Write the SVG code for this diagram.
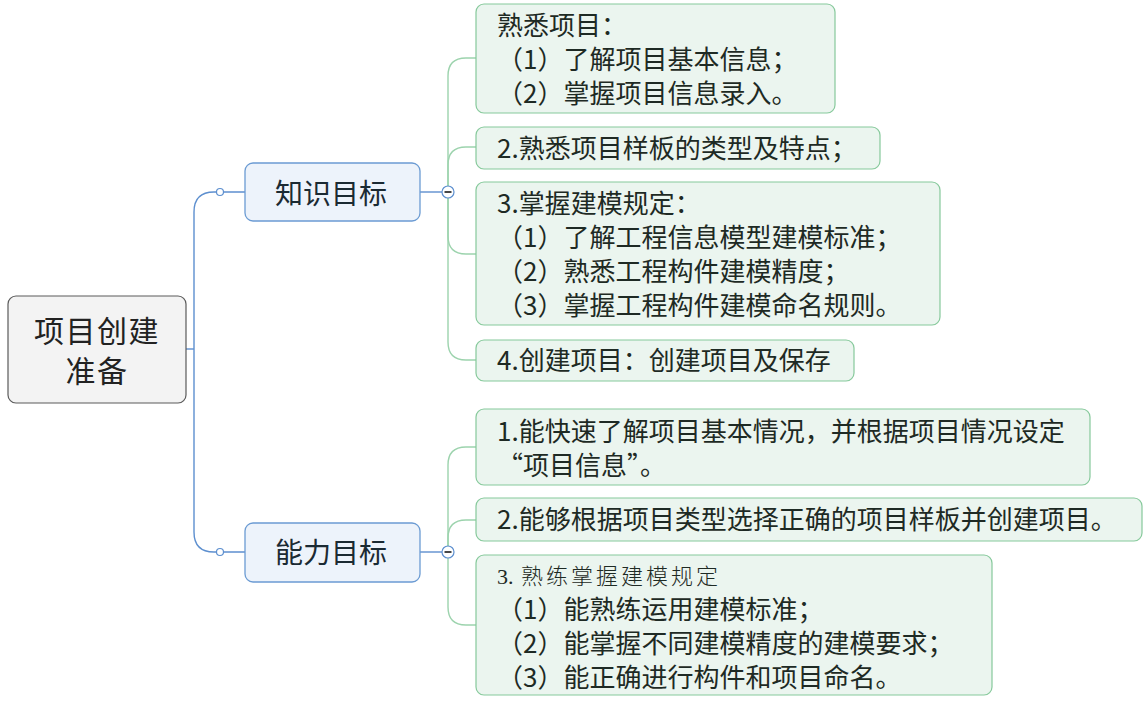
<svg xmlns="http://www.w3.org/2000/svg" width="1146" height="705" viewBox="0 0 1146 705">
<style>
text{font-family:"Noto Sans CJK SC","Noto Sans",sans-serif;fill:#1e2a24}
.root rect{fill:#f3f3f3;stroke:#5a5a5a;stroke-width:1.2}
.root text{font-size:30px;letter-spacing:1.5px;text-anchor:middle;fill:#222}
.main rect{fill:#edf3fb;stroke:#6b9bd3;stroke-width:1.3}
.main text{font-size:28px;text-anchor:middle;fill:#1b2a33}
.leaf rect{fill:#ebf5ef;stroke:#86c99b;stroke-width:1.2}
.leaf text{font-size:26px}
.blue{fill:none;stroke:#5d8fcf;stroke-width:1.4}
.green{fill:none;stroke:#9cd3ad;stroke-width:1.4}
.dot{fill:#fff;stroke:#5d8fcf;stroke-width:1.2}
.minus{stroke:#1a1a1a;stroke-width:1.6}
</style>
<g id="connectors">
<path class="blue" d="M186,349 H194"/>
<path class="blue" d="M194,349 V212 Q194,192 214,192 H245"/>
<path class="blue" d="M194,349 V532 Q194,552 214,552 H245"/>
<circle class="dot" cx="220" cy="192" r="3.5"/>
<circle class="dot" cx="220" cy="552" r="3.5"/>
<path class="blue" d="M420,192 H442"/>
<path class="blue" d="M420,552 H442"/>
<path class="green" d="M448,192 V76 Q448,58 466,58 H476"/>
<path class="green" d="M448,192 V165 Q448,147 466,147 H476"/>
<path class="green" d="M448,192 V236 Q448,254 466,254 H476"/>
<path class="green" d="M448,192 V342 Q448,360 466,360 H476"/>
<path class="green" d="M448,552 V465 Q448,447 466,447 H476"/>
<path class="green" d="M448,552 V538 Q448,520 466,520 H476"/>
<path class="green" d="M448,552 V607 Q448,625 466,625 H476"/>
<circle class="dot" cx="448" cy="192" r="6"/>
<line class="minus" x1="444.5" y1="192" x2="451.5" y2="192"/>
<circle class="dot" cx="448" cy="552" r="6"/>
<line class="minus" x1="444.5" y1="552" x2="451.5" y2="552"/>
</g>
<g id="root" class="root">
<rect x="8" y="296" width="178" height="107" rx="8"/>
<text x="97" y="342">项目创建</text>
<text x="97" y="382">准备</text>
</g>
<g id="knowledge" class="main">
<rect x="245" y="163" width="175" height="58" rx="8"/>
<text x="331" y="204">知识目标</text>
</g>
<g id="ability" class="main">
<rect x="245" y="523" width="175" height="59" rx="8"/>
<text x="331" y="563">能力目标</text>
</g>
<g id="k1" class="leaf">
<rect x="476" y="4" width="359" height="109" rx="8"/>
<text x="497" y="35">熟悉项目：</text>
<text x="497" y="69">（1）了解项目基本信息；</text>
<text x="497" y="103">（2）掌握项目信息录入。</text>
</g>
<g id="k2" class="leaf">
<rect x="476" y="127" width="404" height="42" rx="8"/>
<text x="497" y="158">2.熟悉项目样板的类型及特点；</text>
</g>
<g id="k3" class="leaf">
<rect x="476" y="182" width="464" height="143" rx="8"/>
<text x="497" y="213">3.掌握建模规定：</text>
<text x="497" y="247">（1）了解工程信息模型建模标准；</text>
<text x="497" y="281">（2）熟悉工程构件建模精度；</text>
<text x="497" y="315">（3）掌握工程构件建模命名规则。</text>
</g>
<g id="k4" class="leaf">
<rect x="476" y="340" width="378" height="41" rx="8"/>
<text x="497" y="370">4.创建项目：创建项目及保存</text>
</g>
<g id="a1" class="leaf">
<rect x="476" y="409" width="614" height="76" rx="8"/>
<text x="497" y="441">1.能快速了解项目基本情况，并根据项目情况设定</text>
<text x="497" y="475">“项目信息”。</text>
</g>
<g id="a2" class="leaf">
<rect x="476" y="498" width="666" height="43" rx="8"/>
<text x="497" y="529">2.能够根据项目类型选择正确的项目样板并创建项目。</text>
</g>
<g id="a3" class="leaf">
<rect x="476" y="555" width="516" height="140" rx="8"/>
<text x="497" y="584" style="font-size:22px;font-weight:300"><tspan style="font-family:'Liberation Serif',serif">3.</tspan><tspan x="521" letter-spacing="3">熟练掌握建模规定</tspan></text>
<text x="497" y="619">（1）能熟练运用建模标准；</text>
<text x="497" y="653">（2）能掌握不同建模精度的建模要求；</text>
<text x="497" y="687">（3）能正确进行构件和项目命名。</text>
</g>
</svg>
